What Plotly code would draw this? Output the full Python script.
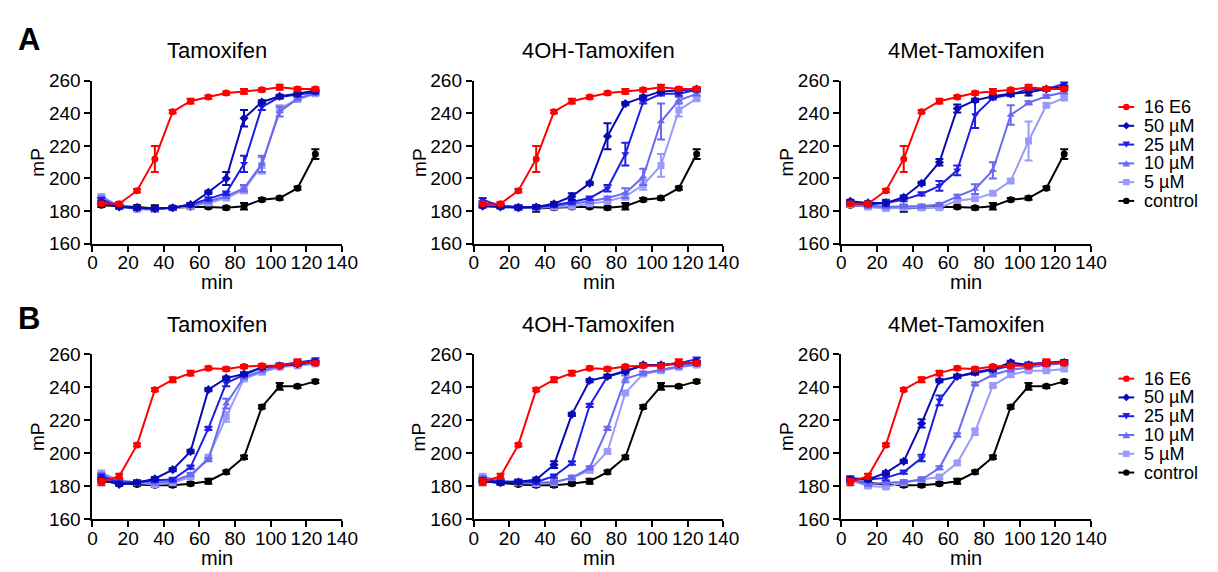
import plotly.graph_objects as go

minutes = [5, 15, 25, 35, 45, 55, 65, 75, 85, 95, 105, 115, 125]
series_names = ["16 E6", "50 µM", "25 µM", "10 µM", "5 µM", "control"]
panel_titles = ["Tamoxifen", "4OH-Tamoxifen", "4Met-Tamoxifen"]
x_label = "min"
y_label = "mP"

# ---------- Row A ----------
A_e6 = [184.5, 184.5, 192.5, 212, 241, 247.5, 250, 252.5, 253.5, 254.5, 256, 255, 255]
A_e6_err = [1, 1, 1, 8, 1, 1.5, 1, 1, 1.5, 1, 1.5, 1, 1]
A_ctrl = [183.5, 183, 182.5, 181.5, 182, 182.5, 182.5, 182, 183, 187, 188, 194, 215]
A_ctrl_err = [1, 1, 1, 2, 1, 1, 1, 1, 2, 1, 1, 1, 3]

A_tam_50 = [185, 182.5, 182, 181.5, 182, 184, 191.5, 200, 237, 247, 250.5, 252, 254]
A_tam_50_err = [1, 1, 1, 1, 1, 1, 1, 4, 5, 1, 1, 1, 1]
A_tam_25 = [187, 182.5, 182, 181.5, 182, 184, 187.5, 191, 209, 244, 250, 251.5, 253]
A_tam_25_err = [1, 1, 1, 1, 1, 1, 1, 1, 5, 2, 1, 1, 1]
A_tam_10 = [188, 183, 181.5, 181, 182, 183.5, 186, 189, 194, 209, 241, 249, 252.5]
A_tam_10_err = [1, 1, 1, 1, 1, 1, 1, 1, 2, 5, 3, 1, 1]
A_tam_5 = [189, 183, 181, 181, 182, 183, 185, 188, 193, 208, 243, 248.5, 252]
A_tam_5_err = [1, 1, 1, 1, 1, 1, 1, 1, 2, 5, 2, 1, 1]

A_oh_50 = [183, 182.5, 182, 182.5, 184.5, 189, 197, 226, 246, 250, 253.5, 254, 255]
A_oh_50_err = [1, 1, 1, 1, 1, 2, 1, 8, 1, 1, 1, 1, 1]
A_oh_25 = [187, 183, 182.5, 182.5, 183.5, 185.5, 188, 194, 215, 247, 252, 252, 254.5]
A_oh_25_err = [1, 1, 1, 1, 1, 1, 1, 2, 7, 1, 1, 1, 1]
A_oh_10 = [185, 183, 182, 182, 183, 184.5, 186, 188, 191, 201, 235, 248, 252]
A_oh_10_err = [1, 1, 1, 1, 1, 1, 1, 1, 3, 5, 11, 2, 1]
A_oh_5 = [184, 183, 182, 182, 182.5, 183, 184.5, 186, 189, 196, 208, 242, 249]
A_oh_5_err = [1, 1, 1, 1, 1, 1, 1, 1, 2, 3, 7, 4, 1]

A_met_50 = [186, 185, 185, 188.5, 197, 210, 243, 248, 250.5, 252, 253, 255, 256]
A_met_50_err = [1, 1, 1, 1, 1, 2, 2.5, 1, 1, 1, 2, 1, 1]
A_met_25 = [185, 184, 185, 187, 190.5, 195.5, 205, 239, 249.5, 251.5, 255, 255, 258]
A_met_25_err = [1, 1, 2, 1, 1, 3, 3, 8, 1, 1, 1, 1, 1]
A_met_10 = [184, 183, 182.5, 183, 183, 184, 189, 193.5, 205, 239, 246.5, 250.5, 253]
A_met_10_err = [1, 1, 1, 1, 1, 1, 1, 3, 5, 6, 1, 1, 1]
A_met_5 = [184, 182.5, 181.5, 182, 182, 182, 186.5, 187.5, 191, 198.5, 223, 245, 249.5]
A_met_5_err = [1, 1, 1, 1, 1, 1, 1, 1, 1, 1, 12, 1, 1]

# ---------- Row B ----------
B_e6 = [182.5, 186, 205, 238.5, 244.5, 248.5, 251.5, 251, 252.5, 253, 253, 255, 254.5]
B_e6_err = [2, 1.5, 1, 1, 1.5, 1.5, 1, 1, 1, 1, 1, 2, 1]
B_ctrl = [183, 182, 181, 180.5, 180.5, 181.5, 183, 188.5, 197.5, 228, 240.5, 240.5, 243.5]
B_ctrl_err = [1, 1, 1, 1, 1, 1, 1.5, 1, 1, 1, 2, 1, 1]

B_tam_50 = [184, 181, 182, 184.5, 190, 201, 238.5, 245.5, 248, 252, 253, 254, 255]
B_tam_50_err = [1, 1, 1, 1, 1, 1, 1, 1, 1, 1, 1, 1, 1]
B_tam_25 = [186, 182, 182.5, 183.5, 184, 191.5, 215, 242.5, 247.5, 252, 253.5, 255, 256.5]
B_tam_25_err = [1, 1, 1, 1, 1, 1, 1, 2, 1, 1, 1, 1, 1]
B_tam_10 = [187, 183, 182.5, 182, 183, 187, 196, 230, 246, 250, 253, 254, 255]
B_tam_10_err = [1, 1, 1, 1, 1, 1, 1, 3, 1, 1, 1, 1, 1]
B_tam_5 = [188, 183.5, 182, 181, 182, 185.5, 197.5, 222, 245, 249, 252, 253, 254]
B_tam_5_err = [1, 1, 1, 1, 1, 1, 1, 3, 1, 1, 1, 1, 1]

B_oh_50 = [183, 182, 182.5, 184, 193, 223.5, 244, 246.5, 249.5, 253.5, 253.5, 254, 255]
B_oh_50_err = [1, 1, 1, 1, 2, 1, 1, 1, 1, 1, 1, 1, 1]
B_oh_25 = [184, 182.5, 183, 182.5, 186, 194, 229, 246.5, 250, 253, 253.5, 254.5, 257]
B_oh_25_err = [1, 1, 1, 1, 1, 1, 1, 1, 1, 1, 1, 1, 1]
B_oh_10 = [185, 183, 182, 182, 182.5, 185, 191, 215, 245, 248.5, 250.5, 252.5, 254]
B_oh_10_err = [1, 1, 1, 1, 1, 1, 1, 1, 2, 1, 1, 1, 1]
B_oh_5 = [186, 183, 182, 181.5, 182, 185, 189.5, 201, 236.5, 248, 250, 252, 253.5]
B_oh_5_err = [1, 1, 1, 1, 1, 1, 1, 1, 1, 1, 1, 1, 1]

B_met_50 = [184, 184, 188, 195, 218, 244, 246.5, 249, 251, 255, 253.5, 254.5, 255]
B_met_50_err = [1, 1, 1, 1, 2.5, 1, 1, 1, 1, 1, 1, 1, 1]
B_met_25 = [185, 184, 185, 188.5, 197, 232, 246.5, 248.5, 250.5, 253, 254, 255, 255.5]
B_met_25_err = [1, 1, 1.5, 1, 2, 3, 1, 1, 1, 1, 1, 1, 1]
B_met_10 = [184, 181, 182, 182.5, 184, 191, 211, 242, 247.5, 250.5, 252, 253.5, 254.5]
B_met_10_err = [1, 1, 1, 1, 1, 1, 1, 1, 1, 1, 1, 1, 1]
B_met_5 = [183.5, 180, 179.5, 182, 184, 185.5, 194, 213, 241, 247.5, 250, 250, 251]
B_met_5_err = [1, 1, 1, 1, 1, 1, 1, 2, 1, 1, 1, 1, 1]

colors = ["#FF0000", "#0A0AB4", "#1E1EE6", "#6A6AF0", "#9A9AFA", "#000000"]
symbols = ["circle", "diamond", "triangle-down", "triangle-up", "square", "circle"]

rows = {
    0: [
        [A_e6, A_tam_50, A_tam_25, A_tam_10, A_tam_5, A_ctrl],
        [A_e6, A_oh_50, A_oh_25, A_oh_10, A_oh_5, A_ctrl],
        [A_e6, A_met_50, A_met_25, A_met_10, A_met_5, A_ctrl],
    ],
    1: [
        [B_e6, B_tam_50, B_tam_25, B_tam_10, B_tam_5, B_ctrl],
        [B_e6, B_oh_50, B_oh_25, B_oh_10, B_oh_5, B_ctrl],
        [B_e6, B_met_50, B_met_25, B_met_10, B_met_5, B_ctrl],
    ],
}
errs = {
    0: [
        [A_e6_err, A_tam_50_err, A_tam_25_err, A_tam_10_err, A_tam_5_err, A_ctrl_err],
        [A_e6_err, A_oh_50_err, A_oh_25_err, A_oh_10_err, A_oh_5_err, A_ctrl_err],
        [A_e6_err, A_met_50_err, A_met_25_err, A_met_10_err, A_met_5_err, A_ctrl_err],
    ],
    1: [
        [B_e6_err, B_tam_50_err, B_tam_25_err, B_tam_10_err, B_tam_5_err, B_ctrl_err],
        [B_e6_err, B_oh_50_err, B_oh_25_err, B_oh_10_err, B_oh_5_err, B_ctrl_err],
        [B_e6_err, B_met_50_err, B_met_25_err, B_met_10_err, B_met_5_err, B_ctrl_err],
    ],
}

W, H = 1218, 572
x_px = [(89, 343), (477, 731), (851, 1105)]
y_px = [(73.5, 242.5), (357.3, 528.5)]


def px(x):
    return x / W


def py(y):
    return 1 - y / H


fig = go.Figure()
FONT = "Liberation Sans, Arial, sans-serif"
layout = dict(
    width=W, height=H, margin=dict(l=0, r=0, t=0, b=0),
    plot_bgcolor="white", paper_bgcolor="white",
    font=dict(family=FONT, color="black", size=15),
    showlegend=False,
)
annotations = []
shapes = []
ax_idx = 0
for r in range(2):
    for c in range(3):
        ax_idx += 1
        suf = "" if ax_idx == 1 else str(ax_idx)
        xa, ya = "x" + suf, "y" + suf
        for i in [5, 4, 3, 2, 1, 0]:
            fig.add_trace(go.Scatter(
                x=minutes, y=rows[r][c][i], name=series_names[i],
                mode="lines+markers",
                line=dict(color=colors[i], width=2),
                marker=dict(symbol=symbols[i], size=7, color=colors[i]),
                error_y=dict(type="data", array=errs[r][c][i], color=colors[i],
                             thickness=2, width=4),
                xaxis=xa, yaxis=ya,
            ))
        axis_common = dict(
            showline=True, linecolor="black", linewidth=2,
            ticks="outside", ticklen=6, tickwidth=2, tickcolor="black",
            showgrid=False, zeroline=False, mirror=False,
            tickfont=dict(size=19, family=FONT),
        )
        x0, x1 = x_px[c]
        y0, y1 = y_px[r]
        layout["xaxis" + suf] = dict(
            axis_common, domain=[px(x0), px(x1)], anchor=ya,
            range=[0, 140], tick0=0, dtick=20, ticklabelstandoff=-5,
        )
        layout["yaxis" + suf] = dict(
            axis_common, domain=[py(y1), py(y0)], anchor=xa,
            range=[160, 260], tick0=160, dtick=20,
        )
        annotations.append(dict(
            text=panel_titles[c], xref="paper", yref="paper",
            x=px((x0 + x1) / 2), y=py(y0 - 31), xanchor="center", yanchor="middle",
            showarrow=False, font=dict(size=22, family=FONT),
        ))
        annotations.append(dict(
            text=x_label, xref="paper", yref="paper",
            x=px((x0 + x1) / 2), y=py(y1 + 40), xanchor="center", yanchor="middle",
            showarrow=False, font=dict(size=20, family=FONT),
        ))
        annotations.append(dict(
            text=y_label, xref="paper", yref="paper", textangle=-90,
            x=px(x0 - 56), y=py((y0 + y1) / 2), xanchor="center", yanchor="middle",
            showarrow=False, font=dict(size=19, family=FONT),
        ))

annotations.append(dict(text="<b>A</b>", xref="paper", yref="paper", x=px(11), y=py(31),
                        xanchor="left", yanchor="middle", showarrow=False,
                        font=dict(size=31, family=FONT)))
annotations.append(dict(text="<b>B</b>", xref="paper", yref="paper", x=px(11), y=py(320),
                        xanchor="left", yanchor="middle", showarrow=False,
                        font=dict(size=31, family=FONT)))

# ---------- custom legends (one per row) ----------
legend_tops = [100.7, 382.7]
legend_step = 19.5
lx0, lx1, lxc, ltx = 1133, 1149, 1141, 1157


def marker_shape(sym, cx, cy, color, s=3.3):
    base = dict(xref="paper", yref="paper", fillcolor=color, line=dict(width=0), layer="above")
    if sym == "circle":
        return dict(base, type="circle", x0=px(cx - s), x1=px(cx + s), y0=py(cy + s), y1=py(cy - s))
    if sym == "square":
        return dict(base, type="rect", x0=px(cx - s), x1=px(cx + s), y0=py(cy + s), y1=py(cy - s))
    if sym == "diamond":
        pts = [(cx, cy - s * 1.2), (cx + s * 1.2, cy), (cx, cy + s * 1.2), (cx - s * 1.2, cy)]
    elif sym == "triangle-down":
        pts = [(cx - s * 1.2, cy - s), (cx + s * 1.2, cy - s), (cx, cy + s)]
    else:
        pts = [(cx - s * 1.2, cy + s), (cx + s * 1.2, cy + s), (cx, cy - s)]
    path = "M " + " L ".join(f"{px(a):.5f},{py(b):.5f}" for a, b in pts) + " Z"
    return dict(base, type="path", path=path)


for top in legend_tops:
    for i, name in enumerate(series_names):
        yc = top + i * legend_step
        shapes.append(dict(type="line", xref="paper", yref="paper",
                           x0=px(lx0), x1=px(lx1), y0=py(yc), y1=py(yc),
                           line=dict(color=colors[i], width=2)))
        shapes.append(marker_shape(symbols[i], lxc, yc, colors[i]))
        annotations.append(dict(text=name, xref="paper", yref="paper",
                                x=px(ltx), y=py(yc), xanchor="left", yanchor="middle",
                                showarrow=False, font=dict(size=18, family=FONT)))

layout["annotations"] = annotations
layout["shapes"] = shapes
fig.update_layout(**layout)
fig.write_html("out.html")
